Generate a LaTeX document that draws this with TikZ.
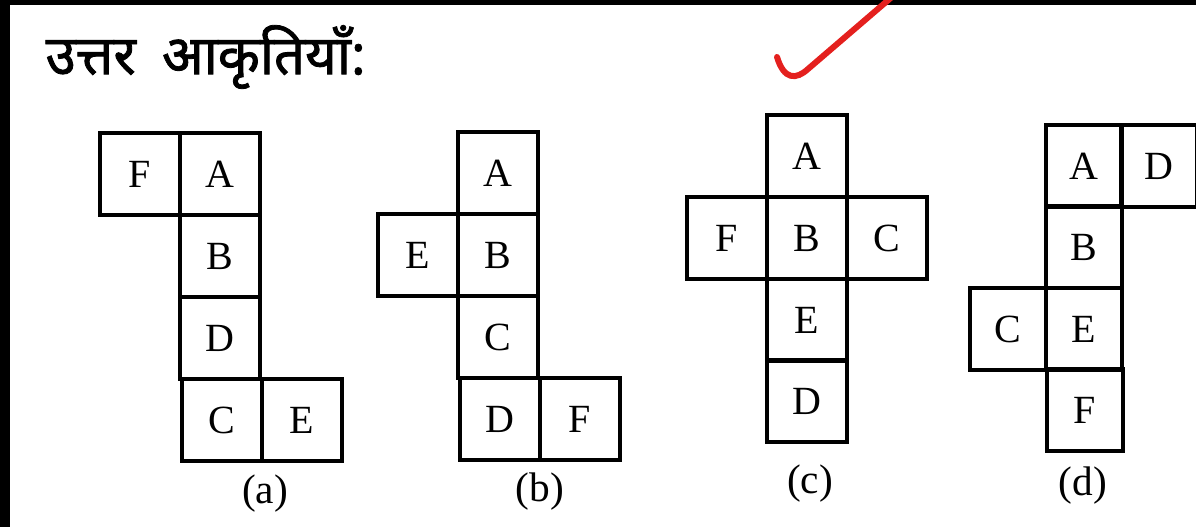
\documentclass[tikz,border=0pt]{standalone}
\usepackage{fontspec}
\setmainfont{Liberation Serif}
\newfontfamily\hindifont[Script=Devanagari, FakeBold=1.5]{Noto Sans}
\definecolor{tickred}{RGB}{228,32,30}

\tikzset{
  face/.style={draw, line width=3pt, inner sep=0pt,
    minimum width=60pt, minimum height=61.5pt,
    font=\fontsize{30}{30}\selectfont},
  facenarrow/.style={face, minimum width=57pt},
  optlabel/.style={font=\fontsize{31}{31}\selectfont}
}

\begin{document}
\begin{tikzpicture}[x=0.75pt,y=-0.75pt]
    \useasboundingbox (0,0) rectangle (1196,527);
    % frame edges of the scan
    \fill[black] (0,0) rectangle (1196,5);
    \fill[black] (0,0) rectangle (10,527);
    % heading
    \node[anchor=west, font=\hindifont\fontsize{41}{43}\selectfont] (title) at (41,57) {उत्तर\hspace{9pt} आकृतियाँ:};
    % tick mark
    \draw[tickred, line width=4.5pt, line cap=round] (777,57) .. controls (784,80) and (796,80) .. (808,69) -- (893,-4);

    % net (a)
    \node[face] (aF) at (140,174) {F};
    \node[face] (aA) at (220,174) {A};
    \node[face] (aB) at (220,256) {B};
    \node[face] (aD) at (220,338) {D};
    \node[face] (aC) at (222,420) {C};
    \node[face] (aE) at (302,420) {E};
    \node[optlabel] (la) at (265,494) {(a)};

    % net (b)
    \node[face] (bA) at (498,173) {A};
    \node[face] (bE) at (418,255) {E};
    \node[face] (bB) at (498,255) {B};
    \node[face] (bC) at (498,337) {C};
    \node[face] (bD) at (500,419) {D};
    \node[face] (bF) at (580,419) {F};
    \node[optlabel] (lb) at (540,492) {(b)};

    % net (c)
    \node[face] (cA) at (807,156) {A};
    \node[face] (cF) at (727,238) {F};
    \node[face] (cB) at (807,238) {B};
    \node[face] (cC) at (887,238) {C};
    \node[face] (cE) at (807,320) {E};
    \node[face] (cD) at (807,401) {D};
    \node[optlabel] (lc) at (810,484) {(c)};

    % net (d)
    \node[facenarrow] (dA) at (1084,166) {A};
    \node[facenarrow] (dD) at (1159,166) {D};
    \node[facenarrow] (dB) at (1084,247) {B};
    \node[facenarrow] (dC) at (1008,329) {C};
    \node[facenarrow] (dE) at (1084,329) {E};
    \node[facenarrow] (dF) at (1085,410) {F};
    \node[optlabel] (ld) at (1083,486) {(d)};
\end{tikzpicture}
\end{document}
